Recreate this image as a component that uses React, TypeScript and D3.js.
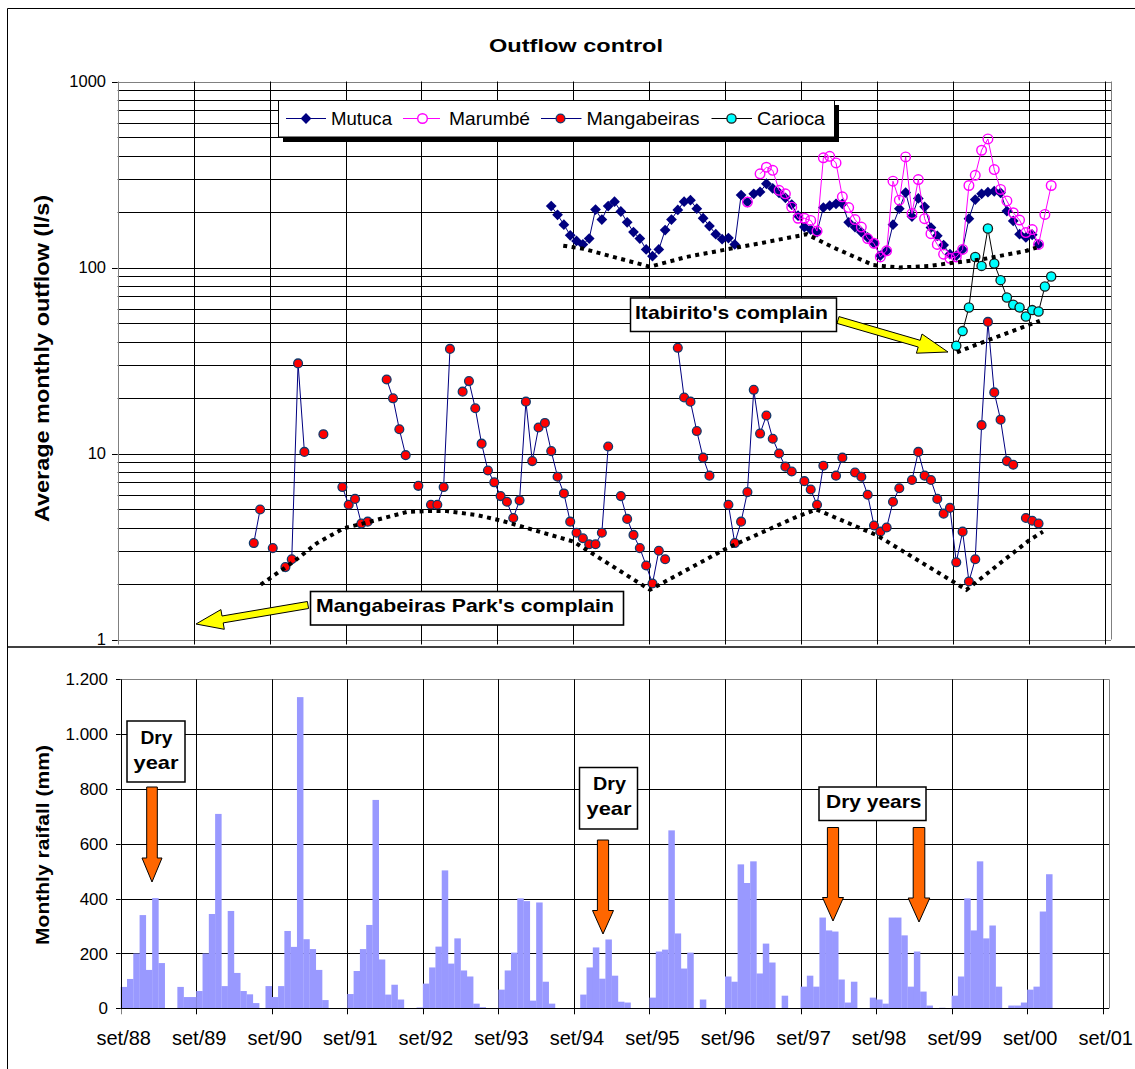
import React from 'react';
import * as d3 from 'd3';

// ---------- DATA ----------
const yearLabels = ['set/88','set/89','set/90','set/91','set/92','set/93','set/94','set/95','set/96','set/97','set/98','set/99','set/00','set/01'];
const outflowTicks = [1, 10, 100, 1000];
const rainTicks = [0, 200, 400, 600, 800, 1000, 1200];

// monthly rainfall (mm), month 0 = set/88
const rainfall = [
  78,107,200,340,140,402,165,0,0,78,41,41,
  63,200,344,709,81,355,129,63,51,19,0,81,
  41,81,282,224,1135,252,216,140,30,0,0,0,
  52,136,216,304,760,178,50,86,32,0,0,3,
  90,149,225,503,163,255,138,116,17,4,0,0,
  68,138,203,401,391,28,386,97,17,0,0,0,
  0,50,149,222,108,251,119,24,21,0,0,0,
  39,207,214,649,273,145,203,0,32,0,0,0,
  116,97,525,457,536,127,236,167,0,46,0,0,
  79,119,79,331,284,280,105,21,97,0,0,39,
  32,17,331,331,266,79,207,61,10,0,2,0,
  46,116,401,284,536,255,302,79,0,10,10,21,
  68,79,353,489
];

const mutucaStart = 68;
const mutuca = [
  214,192,170,149,139,133,143,205,181,214,226,200,
  175,155,143,125,115,125,159,181,204,226,230,207,
  184,167,151,142,144,133,245,225,249,255,282,266,
  252,237,218,190,165,160,155,210,215,220,220,175,
  165,155,145,135,116,123,170,207,253,188,235,212,
  164,148,132,118,116,125,183,232,249,254,257,252,
  201,178,151,145,150,133
];

const marumbeStart = 99;
const marumbe = [
  225,null,319,346,333,260,249,211,184,184,179,157,
  389,396,365,240,210,181,165,143,135,114,123,291,
  230,393,195,297,183,152,133,118,112,114,125,276,
  313,427,491,336,263,228,197,180,154,160,133,193,
  276
];

const mangabeirasStart = 21;
const mangabeiras = [
  3.3,5.0,null,3.1,null,2.45,2.7,30.5,10.2,null,null,12.7,
  null,null,6.6,5.3,5.7,4.2,4.3,null,null,25,19.8,13.5,
  9.8,null,6.7,null,5.3,5.3,6.6,36.5,null,21.5,24.5,17.5,
  11.3,8.1,7.0,5.9,5.5,4.5,5.6,19,9.1,13.8,14.6,10.3,
  7.5,6.1,4.3,3.75,3.5,3.25,3.25,3.75,10.9,null,5.9,4.45,
  3.65,3.1,2.5,2.0,3.0,2.7,null,37,20,19,13.2,9.5,
  7.6,null,null,5.3,3.3,4.3,6.2,22,12.8,16,12,10,
  8.5,8.0,null,7.1,6.4,5.3,8.6,null,7.6,9.5,null,7.9,
  7.5,6.0,4.1,3.8,4.0,5.5,6.5,null,7.2,10.2,7.6,7.2,
  5.7,4.75,5.1,2.6,3.8,2.05,2.7,14.2,51,21.3,15.2,9.1,
  8.7,null,4.5,4.35,4.2
];

const cariocaStart = 132;
const carioca = [38,45.5,61,114,102,162,105,85.5,69,63,61,54.5,59,58,79,89.5];

// hand-drawn trend envelopes: [month position, l/s]
const mangabeirasTrend = [
  [22.6,1.97],[27.8,2.62],[31.5,3.3],[35.7,3.96],[39.3,4.25],[45.7,4.85],[48.8,4.9],[52,4.9],
  [56.7,4.67],[60.9,4.33],[72,3.36],[84.1,1.85],[96.2,3.09],[107.3,4.57],[110.4,5.0],
  [119.9,3.64],[134.1,1.85],[144.1,3.43],[146.2,3.8]
];
const mutucaTrend = [
  [70.4,131],[73.6,126],[78.3,114],[84.1,101],[89.9,114],[96.7,126],[102,136],[108.9,151],
  [113.1,128],[119.4,103],[123.6,100],[128.3,102],[132,106],[136.8,111],[143.6,123],[145.2,128]
];
const cariocaTrend = [[132.6,35],[137.3,40.4],[145.7,51.7]];

const seriesNames = ['Mutuca', 'Marumbé', 'Mangabeiras', 'Carioca'];

// ---------- LAYOUT ----------
const W = 1135, H = 1069;
const NM = 156;
const FONT = 'Liberation Sans, Arial, Helvetica, sans-serif';

const xTop = d3.scaleLinear().domain([0, NM]).range([117.7, 1105]);
const yTop = d3.scaleLog().domain([1, 1000]).range([639.5, 81.5]);
const topRight = 1111;
const xBot = d3.scaleLinear().domain([0, NM]).range([120.7, 1102.7]);
const yBot = d3.scaleLinear().domain([0, 1200]).range([1008.3, 679.3]);
const botRight = 1109;

type P = { m: number; v: number | null };
const toPts = (start: number, arr: (number | null)[]): P[] => arr.map((v, i) => ({ m: start + i, v }));

const lineGen = d3.line<P>()
  .defined(d => d.v != null)
  .x(d => xTop(d.m + 0.5))
  .y(d => yTop(d.v as number));

const trendGen = d3.line<number[]>()
  .x(d => xTop(d[0]))
  .y(d => yTop(d[1]));

const crisp = (v: number) => Math.round(v) + 0.5;

function arrowPath(tx: number, ty: number, px: number, py: number, s: number, h: number, L: number) {
  const dx = px - tx, dy = py - ty, len = Math.hypot(dx, dy);
  const ux = dx / len, uy = dy / len, nx = -uy, ny = ux;
  const bx = px - ux * L, by = py - uy * L;
  const pts = [
    [tx + nx * s, ty + ny * s], [bx + nx * s, by + ny * s], [bx + nx * h, by + ny * h],
    [px, py], [bx - nx * h, by - ny * h], [bx - nx * s, by - ny * s], [tx - nx * s, ty - ny * s]
  ];
  return 'M' + pts.map(p => p[0].toFixed(1) + ',' + p[1].toFixed(1)).join('L') + 'Z';
}

const diamond = d3.symbol().type(d3.symbolSquare).size(58)() as string;

export default function App() {
  const mut = toPts(mutucaStart, mutuca);
  const mar = toPts(marumbeStart, marumbe);
  const man = toPts(mangabeirasStart, mangabeiras);
  const car = toPts(cariocaStart, carioca);

  // log gridlines
  const logGrid: number[] = [];
  [1, 10, 100].forEach(d => { for (let k = 1; k <= 9; k++) logGrid.push(k * d); });
  logGrid.push(1000);

  const years = d3.range(0, 14);

  return (
    <div style={{ position: 'absolute', left: 0, top: 0 }}>
      <svg width={W} height={H} style={{ display: 'block', background: '#fff' }} fontFamily={FONT}>
        <rect x={0} y={0} width={W} height={H} fill="#fff" />
        {/* outer frames */}
        <line x1={7.5} y1={8.5} x2={W} y2={8.5} stroke="#000" />
        <line x1={7.5} y1={8.5} x2={7.5} y2={H} stroke="#000" />
        <line x1={7} y1={647} x2={W} y2={647} stroke="#000" strokeWidth={1.5} />

        {/* ===== TOP CHART ===== */}
        <text x={576} y={52} textAnchor="middle" fontWeight="bold" fontSize={19} textLength={174} lengthAdjust="spacingAndGlyphs">Outflow control</text>

        {logGrid.map((v, i) => (
          <line key={'hg' + i} x1={xTop(0)} x2={topRight} y1={crisp(yTop(v))} y2={crisp(yTop(v))}
            stroke={v === 1000 || v === 1 ? '#808080' : '#000'} strokeWidth={1} />
        ))}
        {years.map(i => (
          <line key={'vg' + i} x1={crisp(xTop(i * 12))} x2={crisp(xTop(i * 12))} y1={yTop(1000)} y2={yTop(1) + 5}
            stroke={i === 0 ? '#808080' : '#000'} strokeWidth={1} />
        ))}
        <line x1={crisp(topRight)} x2={crisp(topRight)} y1={yTop(1000)} y2={yTop(1)} stroke="#808080" />
        {outflowTicks.map(v => (
          <g key={'yt' + v}>
            <line x1={112} x2={xTop(0)} y1={crisp(yTop(v))} y2={crisp(yTop(v))} stroke="#000" />
            <text x={106} y={yTop(v)} dy="0.36em" textAnchor="end" fontSize={16.5}>{v}</text>
          </g>
        ))}
        <text transform={`translate(49,358.5) rotate(-90)`} textAnchor="middle" fontWeight="bold" fontSize={20}
          textLength={327} lengthAdjust="spacingAndGlyphs">Average monthly outflow (l/s)</text>

        {/* Mutuca */}
        <path d={lineGen(mut) as string} fill="none" stroke="#000080" strokeWidth={1} />
        {mut.filter(d => d.v != null).map(d => (
          <path key={'mu' + d.m} d={diamond} fill="#000080"
            transform={`translate(${xTop(d.m + 0.5)},${yTop(d.v as number)}) rotate(45)`} />
        ))}
        {/* Marumbé */}
        <path d={lineGen(mar) as string} fill="none" stroke="#FF00FF" strokeWidth={1} />
        {mar.filter(d => d.v != null).map(d => (
          <circle key={'ma' + d.m} cx={xTop(d.m + 0.5)} cy={yTop(d.v as number)} r={4.8} fill="none" stroke="#FF00FF" strokeWidth={1.4} />
        ))}
        {/* Mangabeiras */}
        <path d={lineGen(man) as string} fill="none" stroke="#000080" strokeWidth={1} />
        {man.filter(d => d.v != null).map(d => (
          <circle key={'mg' + d.m} cx={xTop(d.m + 0.5)} cy={yTop(d.v as number)} r={4.4} fill="#FF0000" stroke="#123A6B" strokeWidth={1.3} />
        ))}
        {/* Carioca */}
        <path d={lineGen(car) as string} fill="none" stroke="#000" strokeWidth={1} />
        {car.filter(d => d.v != null).map(d => (
          <circle key={'ca' + d.m} cx={xTop(d.m + 0.5)} cy={yTop(d.v as number)} r={4.6} fill="#00FFFF" stroke="#1a1a1a" strokeWidth={1.3} />
        ))}

        {/* trend envelopes */}
        {[mangabeirasTrend, mutucaTrend, cariocaTrend].map((t, i) => (
          <path key={'tr' + i} d={trendGen(t) as string} fill="none" stroke="#000" strokeWidth={4} strokeDasharray="4 4.5" />
        ))}

        {/* legend */}
        <rect x={283} y={105} width={556} height={37} fill="#000" />
        <rect x={278.5} y={100.5} width={556} height={36.5} fill="#fff" stroke="#000" strokeWidth={1} />
        <line x1={286} x2={326} y1={118.5} y2={118.5} stroke="#000080" />
        <path d={diamond} fill="#000080" transform="translate(306,118.5) rotate(45)" />
        <text x={331} y={124.5} fontSize={19} textLength={61} lengthAdjust="spacingAndGlyphs">{seriesNames[0]}</text>
        <line x1={403} x2={440} y1={118.5} y2={118.5} stroke="#FF00FF" />
        <circle cx={422.5} cy={118.5} r={4.8} fill="#fff" stroke="#FF00FF" strokeWidth={1.4} />
        <text x={449} y={124.5} fontSize={19} textLength={81} lengthAdjust="spacingAndGlyphs">{seriesNames[1]}</text>
        <line x1={541} x2={581.5} y1={118.5} y2={118.5} stroke="#000080" />
        <circle cx={560.5} cy={118.5} r={4.4} fill="#FF0000" stroke="#123A6B" strokeWidth={1.3} />
        <text x={586.5} y={124.5} fontSize={19} textLength={113} lengthAdjust="spacingAndGlyphs">{seriesNames[2]}</text>
        <line x1={711.5} x2={752} y1={118.5} y2={118.5} stroke="#000" />
        <circle cx={731.5} cy={118.5} r={4.6} fill="#00FFFF" stroke="#1a1a1a" strokeWidth={1.3} />
        <text x={757} y={124.5} fontSize={19} textLength={68} lengthAdjust="spacingAndGlyphs">{seriesNames[3]}</text>

        {/* Itabirito annotation */}
        <path d={arrowPath(838, 320, 948, 352, 3.5, 10, 30)} fill="#FFFF00" stroke="#000" strokeWidth={1} />
        <rect x={630.5} y={298} width={206} height={33.5} fill="#fff" stroke="#000" strokeWidth={1.5} />
        <text x={635} y={318.5} fontWeight="bold" fontSize={18.5} textLength={193} lengthAdjust="spacingAndGlyphs">Itabirito's complain</text>

        {/* Mangabeiras Park annotation */}
        <path d={arrowPath(308, 605, 196, 624, 3.5, 10, 27)} fill="#FFFF00" stroke="#000" strokeWidth={1} />
        <rect x={310.5} y={591.5} width={313} height={33.5} fill="#fff" stroke="#000" strokeWidth={1.6} />
        <text x={316} y={612} fontWeight="bold" fontSize={19} textLength={298} lengthAdjust="spacingAndGlyphs">Mangabeiras Park's complain</text>

        {/* ===== BOTTOM CHART ===== */}
        {rainTicks.map(v => (
          <line key={'bh' + v} x1={xBot(0)} x2={botRight} y1={crisp(yBot(v))} y2={crisp(yBot(v))}
            stroke={v === 1200 ? '#808080' : '#000'} strokeWidth={1} />
        ))}
        {years.map(i => (
          <line key={'bv' + i} x1={crisp(xBot(i * 12))} x2={crisp(xBot(i * 12))} y1={yBot(1200)} y2={yBot(0) + 6}
            stroke={i === 0 ? '#808080' : '#000'} strokeWidth={1} />
        ))}
        <line x1={crisp(botRight)} x2={crisp(botRight)} y1={yBot(1200)} y2={yBot(0)} stroke="#808080" />
        {rainfall.map((v, i) => v > 0 ? (
          <rect key={'b' + i} x={xBot(i)} width={xBot(i + 1) - xBot(i) + 0.2} y={yBot(v)} height={yBot(0) - yBot(v)} fill="#9999FF" />
        ) : null)}
        <line x1={xBot(0)} x2={botRight} y1={crisp(yBot(0))} y2={crisp(yBot(0))} stroke="#000" />
        <line x1={crisp(xBot(0))} x2={crisp(xBot(0))} y1={yBot(1200)} y2={yBot(0)} stroke="#000" />
        {rainTicks.map(v => (
          <g key={'byt' + v}>
            <line x1={116} x2={xBot(0)} y1={crisp(yBot(v))} y2={crisp(yBot(v))} stroke="#000" />
            <text x={108} y={yBot(v)} dy="0.36em" textAnchor="end" fontSize={17}>{d3.format(',')(v).replace(',', '.')}</text>
          </g>
        ))}
        {yearLabels.map((l, i) => (
          <text key={'xl' + i} x={xBot(i * 12) + 3} y={1045} textAnchor="middle" fontSize={20}>{l}</text>
        ))}
        <text transform={`translate(49,845) rotate(-90)`} textAnchor="middle" fontWeight="bold" fontSize={18.5}
          textLength={200} lengthAdjust="spacingAndGlyphs">Monthly raifall (mm)</text>

        {/* Dry year annotations */}
        <rect x={127} y={721} width={58} height={61} fill="#fff" stroke="#000" strokeWidth={1.5} />
        <text x={156.5} y={743.5} textAnchor="middle" fontWeight="bold" fontSize={19} textLength={32} lengthAdjust="spacingAndGlyphs">Dry</text>
        <text x={156} y={768.5} textAnchor="middle" fontWeight="bold" fontSize={19} textLength={45} lengthAdjust="spacingAndGlyphs">year</text>
        <path d={arrowPath(152, 787, 152, 882, 5.3, 10, 24)} fill="#FF6600" stroke="#000" strokeWidth={1} />

        <rect x={579.5} y={767.5} width={58} height={61.5} fill="#fff" stroke="#000" strokeWidth={1.5} />
        <text x={609.5} y={789.5} textAnchor="middle" fontWeight="bold" fontSize={19} textLength={33} lengthAdjust="spacingAndGlyphs">Dry</text>
        <text x={609} y={815} textAnchor="middle" fontWeight="bold" fontSize={19} textLength={45} lengthAdjust="spacingAndGlyphs">year</text>
        <path d={arrowPath(603, 840, 603, 934, 5.6, 10.5, 23.5)} fill="#FF6600" stroke="#000" strokeWidth={1} />

        <rect x={819} y={787} width={107} height={33.5} fill="#fff" stroke="#000" strokeWidth={1.5} />
        <text x={826} y={808} fontWeight="bold" fontSize={19} textLength={95.5} lengthAdjust="spacingAndGlyphs">Dry years</text>
        <path d={arrowPath(833, 827.5, 833, 921, 5.6, 10.5, 23.5)} fill="#FF6600" stroke="#000" strokeWidth={1} />
        <path d={arrowPath(919, 827.5, 919, 922, 5.8, 10.8, 24)} fill="#FF6600" stroke="#000" strokeWidth={1} />
      </svg>
    </div>
  );
}
